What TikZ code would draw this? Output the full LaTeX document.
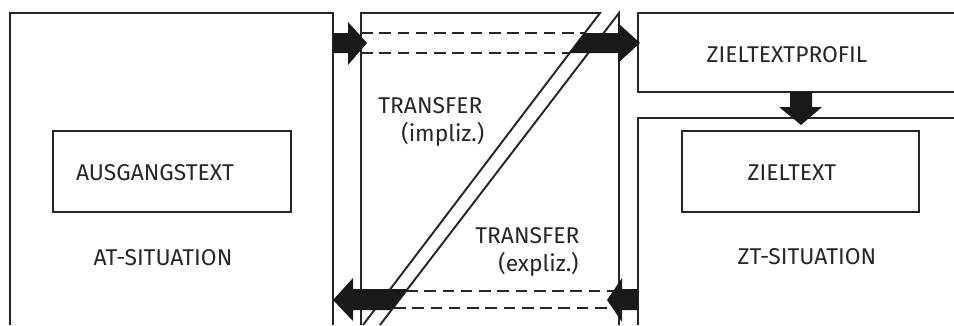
\documentclass[tikz,border=0pt]{standalone}
\usepackage{fontspec}
\setmainfont{Fira Sans}
\begin{document}
\begin{tikzpicture}[x=0.02cm, y=-0.02cm,
    frame/.style={draw=black!85, line width=1.1pt},
    textbox/.style={draw=black!85, line width=1.1pt, inner sep=0},
    lbl/.style={inner sep=0, text=black!85, font=\fontsize{13}{15.9}\selectfont},
    guide/.style={draw=black!85, line width=1.1pt, dash pattern=on 6.6pt off 3.8pt},
    blockarrow/.style={fill=black!90}]
    \useasboundingbox (0,0) rectangle (954,325);

    % AT-Situation links
    \draw[frame] (10,325) -- (10,13) -- (333,13) -- (333,325);
    \node[textbox, minimum width=4.76cm, minimum height=1.62cm] (atbox) at (172,171.5) {};
    \node[lbl] (attext) at (155,173) {AUSGANGSTEXT};
    \node[lbl] (atsit) at (163,258) {AT-SITUATION};

    % Transferbereich mit Doppel-Diagonale
    \draw[frame] (361,325) -- (361,13) -- (600,13) -- (363,325);
    \draw[frame] (380,325) -- (619,13) -- (619,325);
    \node[lbl, anchor=north west, align=left] (trimpl) at (378,97) {TRANSFER\\\hspace*{0.46cm}(impliz.)};
    \node[lbl, anchor=north west, align=left] (trexpl) at (475,227) {TRANSFER\\\hspace*{0.46cm}(expliz.)};

    % Hilfslinien (gestrichelt)
    \draw[guide] (361,33) -- (585,33);
    \draw[guide] (361,53) -- (570,53);
    \draw[guide] (406,291) -- (619,291);
    \draw[guide] (394,308) -- (619,308);

    % ZT-Seite rechts
    \draw[frame] (954,13) -- (638,13) -- (638,92) -- (954,92);
    \draw[frame] (954,118) -- (638,118) -- (638,325);
    \node[lbl] (profil) at (787,55) {ZIELTEXTPROFIL};
    \node[textbox, minimum width=4.74cm, minimum height=1.62cm] (ztbox) at (800.5,171.5) {};
    \node[lbl] (zttext) at (792,173) {ZIELTEXT};
    \node[lbl] (ztsit) at (807,257) {ZT-SITUATION};

    % Blockpfeile
    \fill[blockarrow] (333,33) -- (348,33) -- (348,22) -- (367,43) -- (348,65) -- (348,53) -- (333,53) -- cycle;
    \fill[blockarrow] (584.8,33) -- (618,33) -- (618,23) -- (640,43) -- (618,63) -- (618,53) -- (569.6,53) -- cycle;
    \fill[blockarrow] (790,92) -- (812,92) -- (812,107) -- (822,107) -- (801,125) -- (779,107) -- (790,107) -- cycle;
    \fill[blockarrow] (333,300) -- (353,278) -- (353,289) -- (407.6,289) -- (391.5,310) -- (353,310) -- (353,321) -- cycle;
    \fill[blockarrow] (607,300) -- (622,278) -- (622,289) -- (638,289) -- (638,310) -- (622,310) -- (622,322) -- cycle;
\end{tikzpicture}
\end{document}
